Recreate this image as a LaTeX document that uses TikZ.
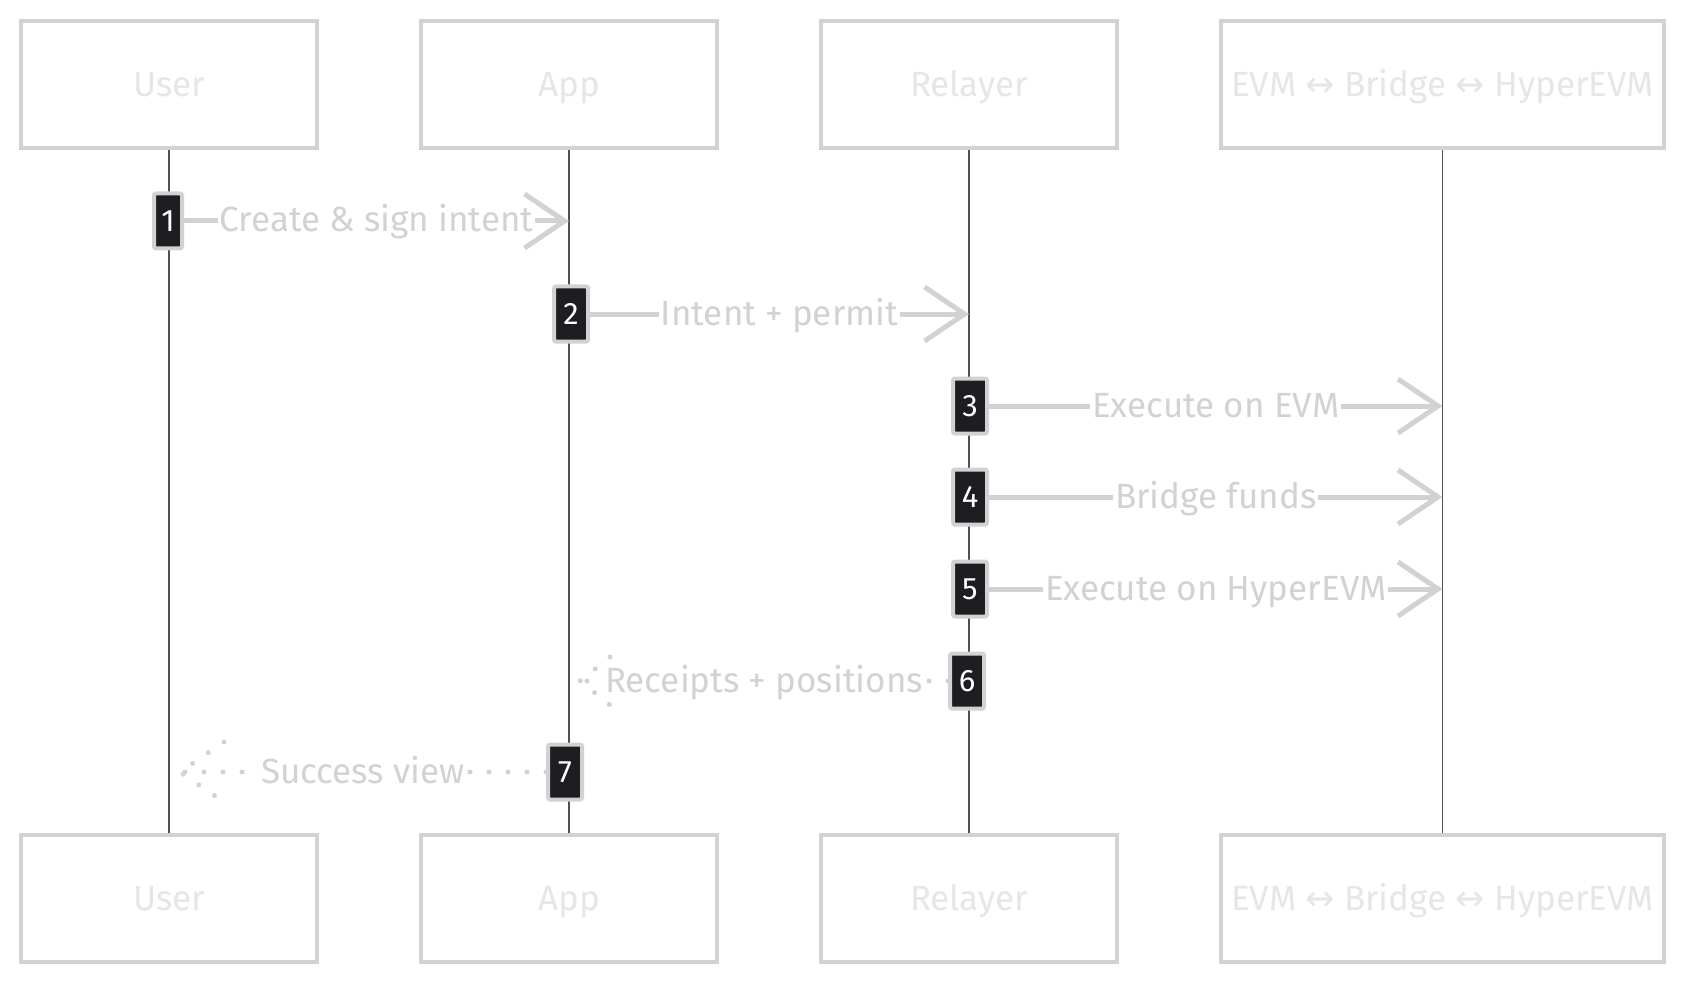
\documentclass[tikz,border=0pt]{standalone}
\usepackage{fontspec}
\setmainfont{Fira Sans}
\newfontfamily\arrowfont{DejaVu Sans}
\usetikzlibrary{arrows.meta,positioning,calc}
\definecolor{edgegray}{HTML}{D2D2D2}
\definecolor{titlegray}{HTML}{E6E6E6}
\definecolor{lifegray}{HTML}{505050}
\definecolor{actfill}{HTML}{1E1E22}
\newcommand{\lr}{{\arrowfont ↔}}
\tikzset{
  actor/.style = {draw=edgegray, line width=4.5pt, fill=white, minimum width=296pt,
                  minimum height=127pt, inner sep=0pt, text=titlegray,
                  text height=28pt, text depth=4pt,
                  font=\fontsize{35}{42}\selectfont},
  act/.style = {draw=edgegray, line width=4pt, fill=actfill, text=white,
                minimum width=34pt, minimum height=55pt, inner sep=0pt,
                rounded corners=2pt, font=\fontsize{31}{36}\selectfont},
  life/.style = {lifegray, line width=1.3pt},
  msg/.style = {edgegray, line width=5pt,
                -{Straight Barb[length=40pt,width=54pt,line width=5pt]}},
  ret/.style = {edgegray, line width=5pt, line cap=round,
                dash pattern=on 0pt off 19pt},
  lbl/.style = {fill=white, text=edgegray, inner sep=2pt,
                text height=27pt, text depth=5pt,
                font=\fontsize{35}{42}\selectfont}
}
\begin{document}
\begin{tikzpicture}[x=1pt, y=-1pt]
  \useasboundingbox (0,0) rectangle (1686,984);

  % participants, top row
  \node[actor] (userT) at (169,84.5) {User};
  \node[actor] (appT) at (569,84.5) {App};
  \node[actor] (relayT) at (969,84.5) {Relayer};
  \node[actor, minimum width=443pt] (bridgeT) at (1442.5,84.5) {EVM \lr{} Bridge \lr{} HyperEVM};

  % participants, bottom row
  \node[actor] (userB) at (169,898.5) {User};
  \node[actor] (appB) at (569,898.5) {App};
  \node[actor] (relayB) at (969,898.5) {Relayer};
  \node[actor, minimum width=443pt] (bridgeB) at (1442.5,898.5) {EVM \lr{} Bridge \lr{} HyperEVM};

  % lifelines
  \foreach \n in {user,app,relay,bridge}{
    \draw[life] (\n T.south) -- (\n B.north); }

  % activation boxes
  \node[act, minimum width=28pt] (a1) at (168,221) {1};
  \node[act] (a2) at (571,314) {2};
  \node[act] (a3) at (970,406) {3};
  \node[act] (a4) at (970,497) {4};
  \node[act] (a5) at (970,589) {5};
  \node[act] (a6) at (967,681) {6};
  \node[act] (a7) at (565,772) {7};

  % calls
  \draw[msg] (a1.east) -- (a1.east -| appT.south) node[lbl, midway] {Create \& sign intent};
  \draw[msg] (a2.east) -- (a2.east -| relayT.south) node[lbl, midway] {Intent + permit};
  \draw[msg] (a3.east) -- (a3.east -| bridgeT.south) node[lbl, midway] {Execute on EVM};
  \draw[msg] (a4.east) -- (a4.east -| bridgeT.south) node[lbl, midway] {Bridge funds};
  \draw[msg] (a5.east) -- (a5.east -| bridgeT.south) node[lbl, midway] {Execute on HyperEVM};

  % replies
  \coordinate (r6) at ($(a6.west -| appT.south)+(11,0)$);
  \coordinate (r7) at ($(a7.west -| userT.south)+(11,0)$);
  \draw[ret] (a6.west) -- (r6) node[lbl, midway] {Receipts + positions};
  \draw[ret] ($(r6)+(30,-24)$) -- (r6) -- ($(r6)+(30,24)$);
  \draw[ret] (a7.west) -- (r7) node[lbl, midway] {Success view};
  \draw[ret] ($(r7)+(44,-30)$) -- (r7) -- ($(r7)+(44,30)$);
\end{tikzpicture}
\end{document}
